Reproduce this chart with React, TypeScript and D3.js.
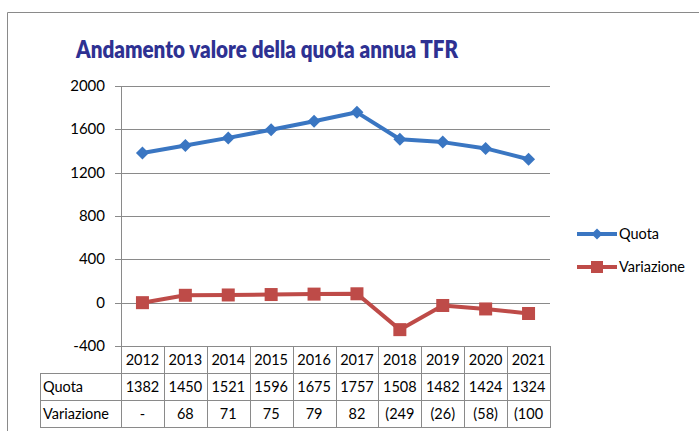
import * as d3 from "d3";

const years = ["2012", "2013", "2014", "2015", "2016", "2017", "2018", "2019", "2020", "2021"];
const quota = [1382, 1450, 1521, 1596, 1675, 1757, 1508, 1482, 1424, 1324];
const variazione = [0, 68, 71, 75, 79, 82, -249, -26, -58, -100];
const variazioneLabels = ["-", "68", "71", "75", "79", "82", "(249", "(26)", "(58)", "(100"];
const yTicks = [-400, 0, 400, 800, 1200, 1600, 2000];

const BLUE = "#3A76C2";
const RED = "#BE4B48";
const GRID = "#8a8a8a";
const FONT = "Lato, 'Open Sans', sans-serif";

export default function App() {
  const left = 121;
  const right = 550;
  const top = 86;
  const bottom = 346;
  const rowH = 27;
  const labelLeft = 40;

  const x = d3.scaleBand<string>().domain(years).range([left, right]);
  const y = d3.scaleLinear().domain([-400, 2000]).range([bottom, top]);

  const line = d3
    .line<number>()
    .x((_, i) => x(years[i])! + x.bandwidth() / 2)
    .y((d) => y(d));

  const diamond = (cx: number, cy: number, r: number) =>
    `M${cx},${cy - r}L${cx + r},${cy}L${cx},${cy + r}L${cx - r},${cy}Z`;

  const rows = [
    { name: "Quota", vals: quota.map(String) },
    { name: "Variazione", vals: variazioneLabels },
  ];

  return (
    <svg
      width={699}
      height={431}
      style={{ position: "absolute", left: 0, top: 0, background: "#fff" }}
      fontFamily={FONT}
    >
      {/* chart frame */}
      <line x1={7.5} x2={7.5} y1={12.5} y2={431} stroke={GRID} />
      <line x1={7.5} x2={699} y1={12.5} y2={12.5} stroke={GRID} />

      <text
        x={76}
        y={58}
        fontSize={24}
        fontWeight={800}
        fill="#2E3192"
        textLength={382}
        lengthAdjust="spacingAndGlyphs"
      >
        Andamento valore della quota annua TFR
      </text>

      {/* grid + y ticks */}
      {yTicks.map((t) => (
        <g key={t}>
          <line x1={115} x2={right} y1={Math.round(y(t)) + 0.5} y2={Math.round(y(t)) + 0.5} stroke={GRID} />
          <text x={105} y={y(t) + 5} textAnchor="end" fontSize={15} fill="#000">
            {t}
          </text>
        </g>
      ))}
      <line x1={left + 0.5} x2={left + 0.5} y1={top} y2={bottom + rowH * 3} stroke={GRID} />

      {/* data table */}
      {years.map((yr) => (
        <g key={yr}>
          <line
            x1={Math.round(x(yr)! + x.bandwidth()) + 0.5}
            x2={Math.round(x(yr)! + x.bandwidth()) + 0.5}
            y1={bottom}
            y2={bottom + rowH * 3}
            stroke={GRID}
          />
          <text x={x(yr)! + x.bandwidth() / 2} y={bottom + 19} textAnchor="middle" fontSize={14.5}>
            {yr}
          </text>
        </g>
      ))}
      <line x1={labelLeft + 0.5} x2={labelLeft + 0.5} y1={bottom + rowH} y2={bottom + rowH * 3} stroke={GRID} />
      {[1, 2, 3].map((r) => (
        <line
          key={r}
          x1={labelLeft}
          x2={right + 1}
          y1={bottom + rowH * r + 0.5}
          y2={bottom + rowH * r + 0.5}
          stroke={GRID}
        />
      ))}
      {rows.map((row, ri) => (
        <g key={row.name}>
          <text x={labelLeft + 3} y={bottom + rowH * (ri + 1) + 19} fontSize={14.5}>
            {row.name}
          </text>
          {row.vals.map((v, i) => (
            <text
              key={i}
              x={x(years[i])! + x.bandwidth() / 2}
              y={bottom + rowH * (ri + 1) + 19}
              textAnchor="middle"
              fontSize={14.5}
            >
              {v}
            </text>
          ))}
        </g>
      ))}

      {/* series */}
      <path d={line(quota)!} fill="none" stroke={BLUE} strokeWidth={4} strokeLinejoin="round" />
      {quota.map((v, i) => (
        <path key={i} d={diamond(x(years[i])! + x.bandwidth() / 2, y(v), 6.5)} fill={BLUE} />
      ))}
      <path d={line(variazione)!} fill="none" stroke={RED} strokeWidth={4} strokeLinejoin="round" />
      {variazione.map((v, i) => (
        <rect key={i} x={x(years[i])! + x.bandwidth() / 2 - 6.5} y={y(v) - 6.5} width={13} height={13} fill={RED} />
      ))}

      {/* legend */}
      <line x1={577} x2={617} y1={234} y2={234} stroke={BLUE} strokeWidth={4} />
      <path d={diamond(597, 234, 5.5)} fill={BLUE} />
      <text x={619} y={239} fontSize={14.5}>Quota</text>
      <line x1={577} x2={617} y1={267} y2={267} stroke={RED} strokeWidth={4} />
      <rect x={591} y={261} width={12} height={12} fill={RED} />
      <text x={619} y={272} fontSize={14.5}>Variazione</text>
    </svg>
  );
}
